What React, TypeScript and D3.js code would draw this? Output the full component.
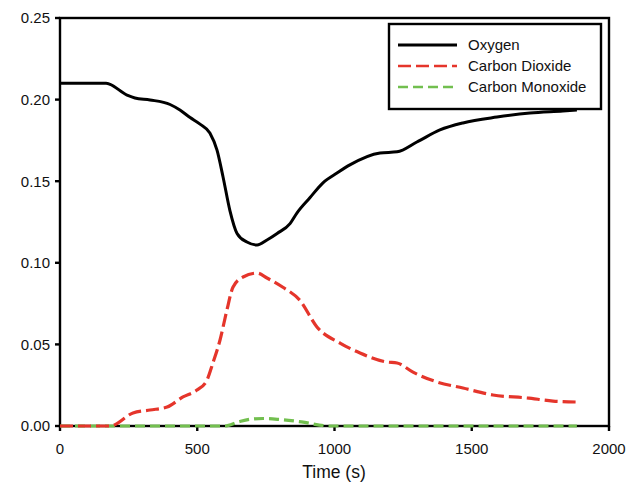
import React from "react";
import * as d3 from "d3";

const oxygenTime = [0, 168, 244, 273, 328, 401, 437, 474, 510, 546, 572, 594, 619, 645, 681, 718, 754, 791, 838, 863, 911, 958, 1009, 1056, 1166, 1228, 1300, 1384, 1468, 1592, 1712, 1832, 1883];
const oxygenValues = [0.21, 0.21, 0.2028, 0.201, 0.1998, 0.197, 0.1936, 0.189, 0.185, 0.1795, 0.169, 0.1526, 0.132, 0.118, 0.1127, 0.1109, 0.114, 0.118, 0.124, 0.1305, 0.14, 0.149, 0.155, 0.16, 0.1673, 0.168, 0.174, 0.1814, 0.1857, 0.1893, 0.1918, 0.193, 0.1936];

const co2Time = [0, 182, 266, 328, 390, 448, 499, 535, 557, 583, 608, 630, 667, 718, 754, 812, 874, 936, 1020, 1093, 1191, 1228, 1286, 1373, 1468, 1577, 1701, 1796, 1883];
const co2Values = [0, 0, 0.008, 0.0098, 0.0116, 0.0178, 0.022, 0.028, 0.0386, 0.0527, 0.071, 0.085, 0.0913, 0.0937, 0.0907, 0.085, 0.077, 0.0607, 0.0508, 0.0447, 0.0392, 0.0386, 0.033, 0.027, 0.0233, 0.019, 0.0172, 0.0153, 0.0147];

const coTime = [0, 600, 650, 700, 740, 800, 880, 980, 1200, 1500, 1883];
const coValues = [0, 0, 0.0025, 0.0043, 0.0046, 0.004, 0.0025, 0, 0, 0, 0];

const xTicks = [0, 500, 1000, 1500, 2000];
const yTicks = [0, 0.05, 0.1, 0.15, 0.2, 0.25];
const legendLabels = ["Oxygen", "Carbon Dioxide", "Carbon Monoxide"];

const W = 639, H = 500;
const left = 60, right = 609, top = 18, bottom = 426;
const font = "Liberation Sans, Arial, sans-serif";

export default function App() {
  const x = d3.scaleLinear().domain([0, 2000]).range([left, right]);
  const y = d3.scaleLinear().domain([0, 0.25]).range([bottom, top]);
  const line = d3.line<[number, number]>().x(d => x(d[0])).y(d => y(d[1])).curve(d3.curveMonotoneX);
  const zip = (t: number[], v: number[]) => t.map((tt, i) => [tt, v[i]] as [number, number]);

  const series = [
    { data: zip(coTime, coValues), color: "#72bf4f", dash: "10,5", width: 3.2 },
    { data: zip(co2Time, co2Values), color: "#e5352b", dash: "13,5", width: 3.2 },
    { data: zip(oxygenTime, oxygenValues), color: "#000", dash: undefined, width: 3 },
  ];
  const legend = [
    { color: "#000", dash: undefined },
    { color: "#e5352b", dash: "13,5" },
    { color: "#72bf4f", dash: "10,5" },
  ];

  return (
    <svg width={W} height={H} style={{ position: "absolute", left: 0, top: 0, background: "#fff" }} fontFamily={font}>
      <rect x={0} y={0} width={W} height={H} fill="#fff" />
      <rect x={left} y={top} width={right - left} height={bottom - top} fill="none" stroke="#000" strokeWidth={2.4} />
      {yTicks.map(t => (
        <g key={"y" + t}>
          <line x1={left - 5} x2={left} y1={y(t)} y2={y(t)} stroke="#000" strokeWidth={2.4} />
          <text x={left - 10} y={y(t)} dy="0.36em" textAnchor="end" fontSize={15} fill="#111">{t.toFixed(2)}</text>
        </g>
      ))}
      {xTicks.map(t => (
        <g key={"x" + t}>
          <line x1={x(t)} x2={x(t)} y1={bottom} y2={bottom + 5} stroke="#000" strokeWidth={2.4} />
          <text x={x(t)} y={454} textAnchor="middle" fontSize={15} fill="#111">{t}</text>
        </g>
      ))}
      <text x={334} y={478} textAnchor="middle" fontSize={17.5} fill="#111">Time (s)</text>
      {series.map((s, i) => (
        <path key={i} d={line(s.data) || ""} fill="none" stroke={s.color} strokeWidth={s.width} strokeDasharray={s.dash} strokeLinejoin="round" />
      ))}
      <rect x={389} y={24} width={212} height={85} fill="#fff" stroke="#000" strokeWidth={2.4} />
      {legendLabels.map((l, i) => (
        <g key={l}>
          <line x1={398} x2={457} y1={45 + i * 21} y2={45 + i * 21} stroke={legend[i].color} strokeWidth={i === 0 ? 3 : 2.5} strokeDasharray={legend[i].dash} />
          <text x={468} y={45 + i * 21} dy="0.36em" fontSize={15} fill="#111">{l}</text>
        </g>
      ))}
    </svg>
  );
}
